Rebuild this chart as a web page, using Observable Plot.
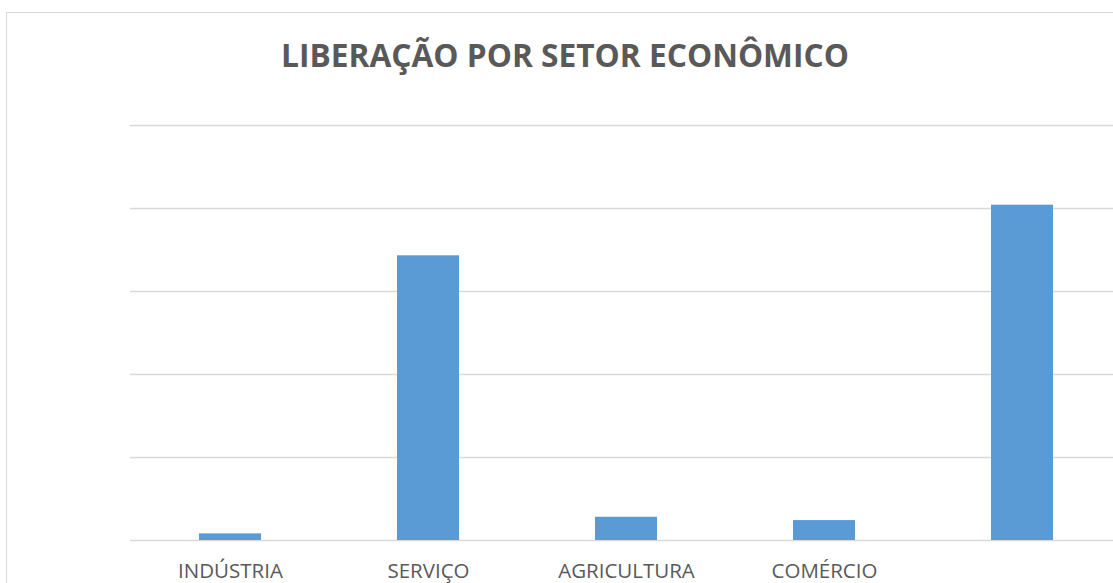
<!DOCTYPE html>
<html>
<head>
<meta charset="utf-8">
<script src="https://cdn.jsdelivr.net/npm/d3@7"></script>
<script src="https://cdn.jsdelivr.net/npm/@observablehq/plot@0.6"></script>
<style>
  html, body { margin: 0; padding: 0; background: #fff; overflow: hidden; }
  #wrap { position: relative; width: 1113px; height: 583px; overflow: hidden; font-family: "Open Sans", sans-serif; }
  #frame { position: absolute; left: 6px; top: 12px; width: 1200px; height: 700px; border: 1.5px solid #d9d9d9; box-sizing: border-box; }
  #title { position: absolute; left: 0; top: 33px; width: 1130px; text-align: center; font-weight: bold; font-size: 31.7px; color: #595959; line-height: 44px; }
  #chart { position: absolute; left: 0; top: 0; width: 1130px; height: 583px; }
  #chart svg { max-width: none !important; }
</style>
</head>
<body>
<div id="wrap">
  <div id="frame"></div>
  <div id="title">LIBERAÇÃO POR SETOR ECONÔMICO</div>
  <div id="chart"></div>
</div>
<script>
const categories = ["INDÚSTRIA", "SERVIÇO", "AGRICULTURA", "COMÉRCIO", ""];
const values = [0.08, 3.43, 0.28, 0.24, 4.04];
const yTicks = [0, 1, 2, 3, 4, 5];

const data = categories.map((c, i) => ({category: c, value: values[i]}));

const chart = Plot.plot({
  width: 1130,
  height: 583,
  marginLeft: 130,
  marginRight: 9,
  marginTop: 125,
  marginBottom: 43,
  style: {fontFamily: "Open Sans, sans-serif", background: "transparent", overflow: "visible", maxWidth: "none"},
  x: {domain: categories, paddingInner: 0.687, paddingOuter: 0.3435, axis: null},
  y: {domain: [0, 5], axis: null},
  marks: [
    Plot.ruleY(yTicks, {stroke: "#d9d9d9", strokeWidth: 1.5}),
    Plot.barY(data, {x: "category", y: "value", fill: "#5b9bd5"}),
    Plot.axisX({
      tickSize: 0,
      tickPadding: 23,
      fontSize: 20.5,
      color: "#595959",
      label: null
    })
  ]
});
document.getElementById("chart").appendChild(chart);
</script>
</body>
</html>
